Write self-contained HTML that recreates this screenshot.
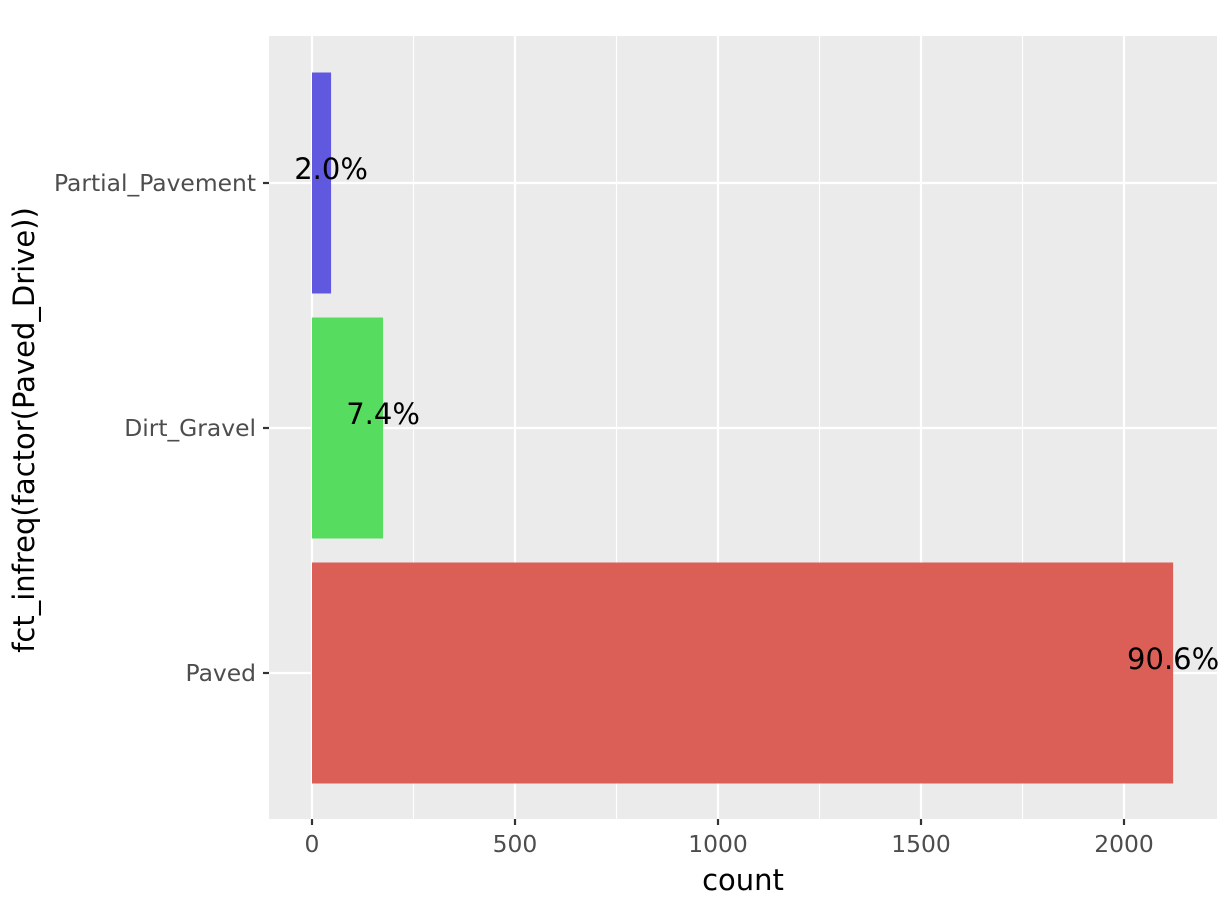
<!DOCTYPE html>
<html><head><meta charset="utf-8"><style>
body{margin:0;background:#fff;}
svg{display:block;font-family:"DejaVu Sans","Liberation Sans",sans-serif;}
</style></head><body>
<svg id="chart" width="1228" height="921">
<rect x="0" y="0" width="1228" height="921" fill="#fff"/>
<rect x="269" y="36" width="948" height="783" fill="#EBEBEB"/>
<g id="grid"></g><g id="bars"></g><g id="axes"></g>
<text x="743" y="890" font-size="29" text-anchor="middle" fill="#000">count</text>
<text transform="translate(34,430) rotate(-90)" font-size="29" text-anchor="middle" fill="#000">fct_infreq(factor(Paved_Drive))</text>
</svg>
<script>
const categories = ["Paved", "Dirt_Gravel", "Partial_Pavement"];
const counts = [2121, 175, 47];
const pctLabels = ["90.6%", "7.4%", "2.0%"];
const colors = ["#DB5F57", "#56DD5F", "#6158E0"];
const xTicks = [0, 500, 1000, 1500, 2000];
const xMinor = [250, 750, 1250, 1750];

const NS = "http://www.w3.org/2000/svg";
const x = v => 312 + v * 0.406;
const y = i => 673 - i * 245;
const bandH = 221;
function mk(tag, attrs, parent, txt){const e=document.createElementNS(NS,tag);for(const k in attrs)e.setAttribute(k,attrs[k]);if(txt!==undefined)e.textContent=txt;parent.appendChild(e);return e;}
const grid=document.getElementById('grid'), bars=document.getElementById('bars'), axes=document.getElementById('axes');
xMinor.forEach(v=>{const l=mk('line',{x1:x(v),x2:x(v),y1:36,y2:819,stroke:'#fff','stroke-width':1.1},grid);

});
xTicks.forEach(v=>{const l=mk('line',{x1:x(v),x2:x(v),y1:36,y2:819,stroke:'#fff','stroke-width':2.2},grid);


const t=mk('line',{x1:x(v),x2:x(v),y1:819,y2:825,stroke:'#333','stroke-width':2.2},axes);


const tl=mk('text',{x:x(v),y:852,'font-size':23.4,'text-anchor':'middle',fill:'#4D4D4D'},axes,String(v));

});
categories.forEach((c,i)=>{const cy=y(i);
const g=mk('line',{x1:269,x2:1217,y1:cy,y2:cy,stroke:'#fff','stroke-width':2.2},grid);


const t=mk('line',{x1:263,x2:269,y1:cy,y2:cy,stroke:'#333','stroke-width':2.2},axes);


const tl=mk('text',{x:256,y:cy+8,'font-size':23.4,'text-anchor':'end',fill:'#4D4D4D'},axes,c);


const b=mk('rect',{x:x(0),y:cy-bandH/2,width:x(counts[i])-x(0),height:bandH,fill:colors[i]},bars);


const lb=mk('text',{x:x(counts[i]),y:cy-4,'font-size':29,'text-anchor':'middle',fill:'#000'},bars,pctLabels[i]);

});
</script>
</body></html>
